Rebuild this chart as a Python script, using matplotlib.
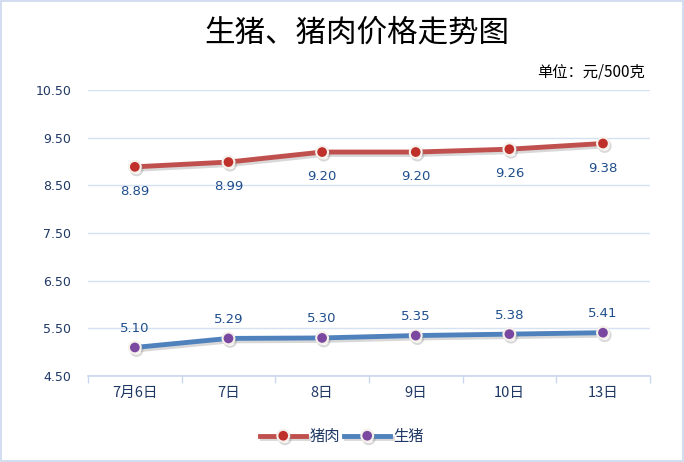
import matplotlib
matplotlib.use("Agg")
import matplotlib.pyplot as plt
import matplotlib.patheffects as pe
from matplotlib.patches import Rectangle

plt.rcParams['font.family'] = ['Noto Sans CJK SC', 'DejaVu Sans']

categories = ["7月6日", "7日", "8日", "9日", "10日", "13日"]
pork = [8.89, 8.99, 9.20, 9.20, 9.26, 9.38]
pig = [5.10, 5.29, 5.30, 5.35, 5.38, 5.41]
yticks = [4.50, 5.50, 6.50, 7.50, 8.50, 9.50, 10.50]

fig = plt.figure(figsize=(6.84, 4.62), dpi=100)
fig.patches.append(Rectangle((0.002, 0.002), 0.996, 0.996, transform=fig.transFigure,
                             fill=False, edgecolor='#c9d7ec', linewidth=1.2))
ax = fig.add_axes([0.1287, 0.186, 0.8213, 0.619])

x = list(range(len(categories)))
shadow = [pe.SimpleLineShadow(offset=(1.2, -1.8), shadow_color='gray', alpha=0.3), pe.Normal()]
ax.plot(x, pork, color='#c0504d', lw=3.5, marker='o', ms=8.5, mfc='#c0302b', mec='#f5f0ea', mew=1.5,
        label='猪肉', path_effects=shadow, zorder=3)
ax.plot(x, pig, color='#4f81bd', lw=3.5, marker='o', ms=8.5, mfc='#7a48a0', mec='#f5f0ea', mew=1.5,
        label='生猪', path_effects=shadow, zorder=3)

lc = '#1f4e8c'
for xi, v in zip(x, pork):
    ax.annotate(f"{v:.2f}", (xi, v), xytext=(0, -13), textcoords='offset points', ha='center', va='top',
                fontsize=9.5, color=lc, family=['DejaVu Sans'])
for xi, v in zip(x, pig):
    ax.annotate(f"{v:.2f}", (xi, v), xytext=(0, 9), textcoords='offset points', ha='center', va='bottom',
                fontsize=9.5, color=lc, family=['DejaVu Sans'])

ax.set_xlim(-0.5, len(categories) - 0.5)
ax.set_ylim(4.5, 10.5)
ax.set_yticks(yticks)
ax.set_yticklabels([f"{t:.2f}" for t in yticks], color='#1f3864', fontsize=9, family=['DejaVu Sans'])
ax.set_xticks(x)
ax.set_xticklabels(categories, color='#1f3864', fontsize=10.5)
ax.set_xticks([i - 0.5 for i in range(len(categories) + 1)], minor=True)
ax.tick_params(axis='x', which='major', length=0, pad=7)
ax.tick_params(axis='x', which='minor', length=5, color='#c9d7ec', width=1)
ax.tick_params(axis='y', length=0, pad=12)
ax.grid(axis='y', color='#d6e2f2', lw=1)
ax.set_axisbelow(True)
for s in ['top', 'right', 'left']:
    ax.spines[s].set_visible(False)
ax.spines['bottom'].set_color('#c9d7ec')
ax.spines['bottom'].set_linewidth(1.2)

fig.text(0.522, 0.928, "生猪、猪肉价格走势图", ha='center', va='center', fontsize=22, color='black')
fig.text(0.943, 0.845, "单位：元/500克", ha='right', va='center', fontsize=11, color='black')

fig.legend(loc='center', bbox_to_anchor=(0.5, 0.055), ncol=2, frameon=False, fontsize=11,
           handlelength=3.0, columnspacing=0.3, handletextpad=0.2, labelcolor='#1f3864')

fig.savefig("out.png", dpi=100)
